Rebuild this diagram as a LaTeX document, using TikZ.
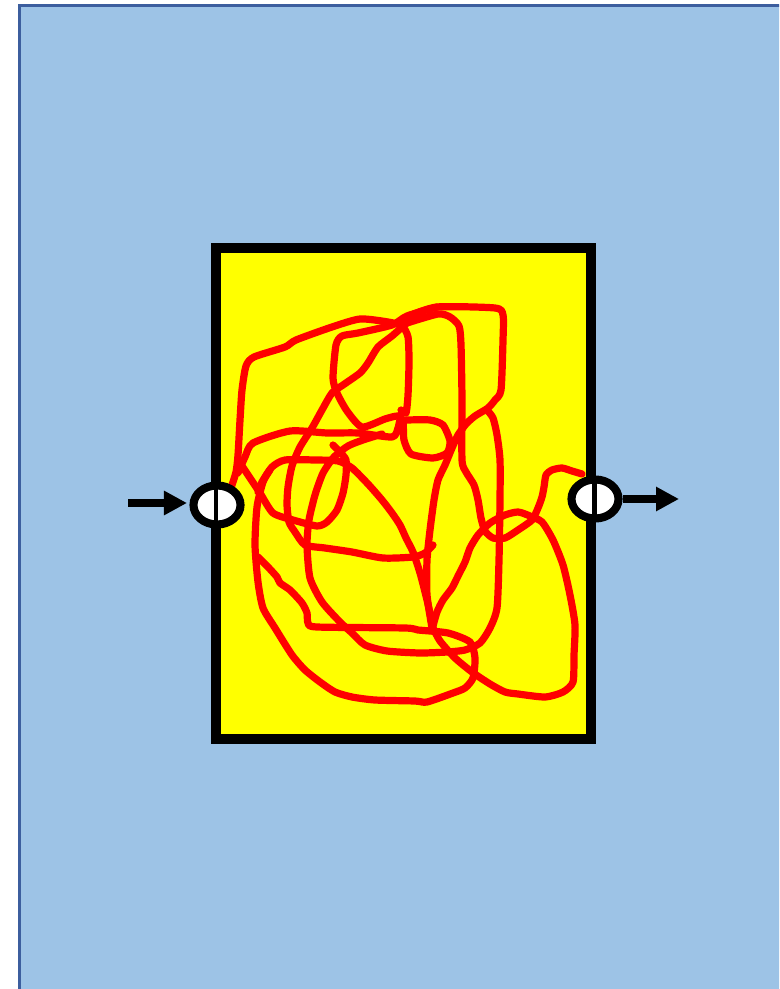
\documentclass[tikz,border=0pt]{standalone}
\usetikzlibrary{arrows.meta,shapes.geometric}
\definecolor{bgblue}{HTML}{9DC3E6}
\definecolor{bgedge}{HTML}{3C5E9E}
\definecolor{boxyellow}{HTML}{FFFF00}
\definecolor{scribred}{HTML}{FF0000}
\begin{document}
\begin{tikzpicture}[x={(0.01cm,0)},y={(0,-0.01cm)},
  scribble/.style={draw=scribred, line width=2.05pt, line cap=round, line join=round},
  port/.style={ellipse, draw=black, fill=white, line width=2.3pt, minimum width=0.47cm, minimum height=0.39cm, inner sep=0pt},
  portbar/.style={draw=black, line width=1.4pt},
  arrowline/.style={draw=black, line width=2pt, -{Triangle[length=0.23cm,width=0.23cm]}},
  boxstyle/.style={draw=black, fill=boxyellow, line width=2.85pt, minimum width=3.75cm, minimum height=4.91cm, inner sep=0pt}]
\useasboundingbox (0,0) rectangle (779,989);
\clip (0,0) rectangle (779,989);
\fill[white] (0,0) rectangle (779,989);
\draw[bgedge, fill=bgblue, line width=0.75pt] (19.7,5.3) rectangle (800,1010);

\node[boxstyle] (box) at (403.5,493.5) {};

% scribble
\draw[scribble] plot[smooth, tension=0.4] coordinates {(231,488) (236,472) (238,455) (240,420) (242,390) (246,366) (254,357) (285,347) (296,340) (332,327) (360,319) (388,322) (402,326) (408,337) (409,362) (408,395) (406,413) (401,410)};
\draw[scribble] plot[smooth, tension=0.4] coordinates {(238,473) (245,457) (253,443) (290,431) (327,433) (358,433) (392,437) (398,428) (401,414)};
\draw[scribble] plot[smooth, tension=0.4] coordinates {(437,307) (407,316) (392,325) (358,333) (342,336) (336,345) (333,378) (337,393) (347,411) (362,427) (385,419) (398,416) (403,422) (404,440) (411,454) (433,458) (447,453) (450,441) (443,425) (430,420) (407,420)};
\draw[scribble] plot[smooth, tension=0.4] coordinates {(409,321) (392,336) (378,347) (368,363) (360,373) (343,385) (332,393) (322,410) (312,428) (300,447) (292,466) (288,487) (287,505) (289,522) (295,532) (305,545) (325,548) (352,552) (383,558) (413,557) (425,553) (433,545)};
\draw[scribble] plot[smooth, tension=0.4] coordinates {(487,410) (493,418) (497,435) (500,460) (500,500) (499,560) (497,608) (490,628) (480,643) (465,650) (447,652) (420,653) (387,651) (365,645) (352,633) (340,622) (322,602) (310,578) (307,545) (309,520) (315,495) (323,473) (334,457) (348,446) (363,440) (382,434)};
\draw[scribble] plot[smooth, tension=0.4] coordinates {(409,316) (437,307) (495,308) (503,315) (503,340) (501,390) (495,400) (488,408) (475,416) (466,424) (458,435) (452,448) (445,465) (438,480) (434,500) (430,530) (427,560) (427,595) (432,628)};
\draw[scribble] plot[smooth, tension=0.4] coordinates {(407,323) (438,314) (450,317) (459,326) (461,345) (462,400) (462,460) (466,472) (474,485) (478,500) (481,518) (485,531) (493,538) (505,538) (518,530) (532,520) (538,508) (542,497) (544,487) (546,475) (552,470) (562,468) (572,471) (582,474)};
\draw[scribble] plot[smooth, tension=0.4] coordinates {(433,626) (437,612) (443,600) (452,588) (458,576) (465,562) (470,548) (478,535) (490,523) (505,515) (518,512) (530,516) (542,522) (553,540) (563,565) (570,595) (575,625) (574,655) (573,682) (563,692) (545,697) (518,694) (505,692) (490,684) (472,672) (455,658) (440,641) (433,628)};
\draw[scribble] plot[smooth, tension=0.4] coordinates {(258,492) (262,482) (272,467) (285,460) (315,460) (338,461) (352,468) (368,484) (382,500) (392,513) (400,525) (406,538) (413,552) (420,573) (427,600) (433,627)};
\draw[scribble] plot[smooth, tension=0.4] coordinates {(240,463) (250,478) (260,493) (273,513) (293,520) (317,526) (327,522) (337,510) (343,493) (346,475) (346,460) (340,452) (333,445)};
\draw[scribble] plot[smooth, tension=0.4] coordinates {(270,470) (263,482) (257,507) (255,545) (258,582) (263,608) (275,628) (292,655) (305,670) (320,682) (335,692) (352,697) (375,700) (415,701) (427,702) (453,693) (465,688) (473,678) (475,658) (470,642) (448,633) (418,630) (405,628) (317,627) (308,623) (307,613) (302,603) (290,590) (280,583) (277,577) (268,567) (258,557)};

% ports
\node[port] (lp) at (217,505) {};
\draw[portbar] (216,488) -- (216,522);
\node[port] (rp) at (595,499) {};
\draw[portbar] (594.5,482) -- (594.5,516);

% arrows
\coordinate (lstart) at (128,503);
\coordinate (lend) at (187,503);
\draw[arrowline] (lstart) -- (lend);
\coordinate (rend) at (679,499);
\draw[arrowline] (rp.east) -- (rend);
\end{tikzpicture}
\end{document}
